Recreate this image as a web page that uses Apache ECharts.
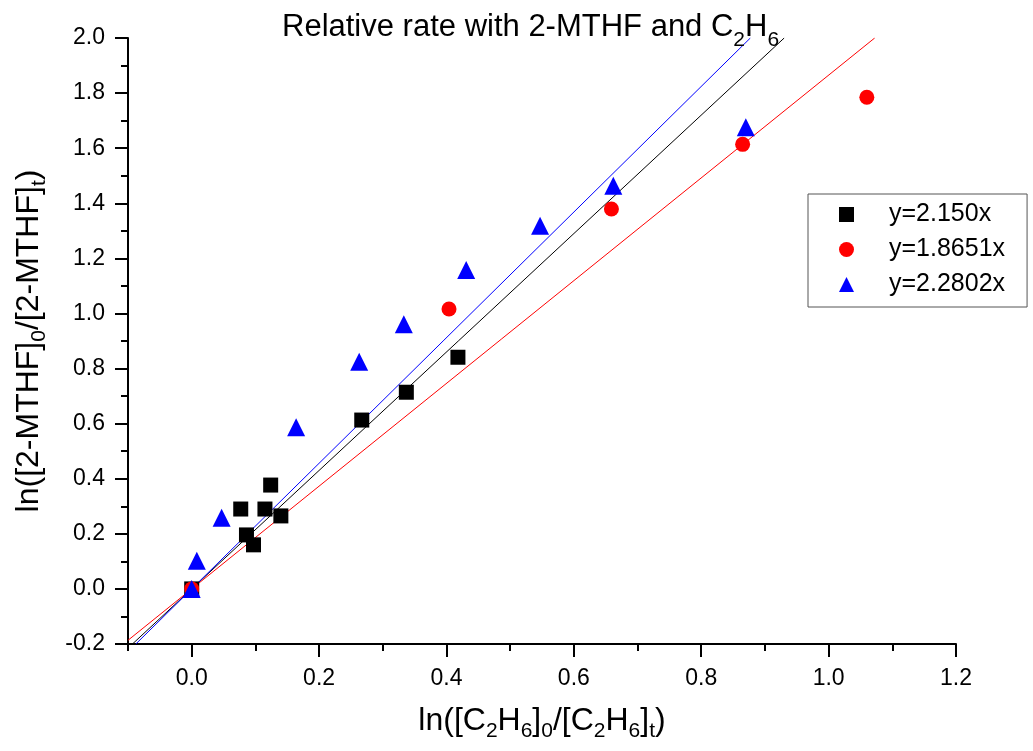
<!DOCTYPE html>
<html>
<head>
<meta charset="utf-8">
<script src="https://cdn.jsdelivr.net/npm/echarts@6/dist/echarts.min.js"></script>
<style>
html,body{margin:0;padding:0;background:#fff;}
#c{width:1033px;height:751px;}
</style>
</head>
<body>
<div id="c"></div>
<script>
// ---- data ----
const seriesNames = ['y=2.150x', 'y=1.8651x', 'y=2.2802x'];
const slopes = [2.150, 1.8651, 2.2802];
const xBlack = [0, 0.077, 0.086, 0.097, 0.115, 0.124, 0.140, 0.267, 0.337, 0.418];
const yBlack = [0, 0.290, 0.196, 0.160, 0.290, 0.377, 0.265, 0.613, 0.714, 0.841];
const xRed = [0, 0.404, 0.659, 0.865, 1.060];
const yRed = [0, 1.016, 1.379, 1.614, 1.785];
const xBlue = [0, 0.008, 0.047, 0.164, 0.263, 0.333, 0.431, 0.547, 0.662, 0.870];
const yBlue = [0, 0.102, 0.258, 0.587, 0.825, 0.961, 1.158, 1.318, 1.464, 1.676];
const xMajorTicks = [0, 0.2, 0.4, 0.6, 0.8, 1.0, 1.2];
const xMinorTicks = [-0.1, 0.1, 0.3, 0.5, 0.7, 0.9, 1.1];
const xRange = [-0.1, 1.2];
const yRange = [-0.2, 2.0];

const colors = ['#000000', '#ff0000', '#0000ff'];
const symbols = ['rect', 'circle', 'triangle'];
const symbolSizes = [15, 15, 18];
const pts = [[xBlack, yBlack], [xRed, yRed], [xBlue, yBlue]];

function zip(xs, ys) { return xs.map((x, i) => [x, ys[i]]); }
function fitLine(k) {
  const x0 = Math.max(xRange[0], yRange[0] / k);
  const x1 = Math.min(xRange[1], yRange[1] / k);
  return [[x0, k * x0], [x1, k * x1]];
}

const FONT = '"Liberation Sans", Arial, sans-serif';
const series = [];
slopes.forEach((k, i) => {
  series.push({
    name: 'fit' + i, type: 'line', data: fitLine(k), symbol: 'none',
    lineStyle: { color: colors[i], width: 1, opacity: 1 }, silent: true, z: 1, animation: false
  });
});
seriesNames.forEach((n, i) => {
  series.push({
    name: n, type: 'scatter', data: zip(pts[i][0], pts[i][1]),
    symbol: symbols[i], symbolSize: symbolSizes[i],
    itemStyle: { color: colors[i], opacity: 1 }, z: 3 + i, animation: false
  });
});

const subRich = (main, sub, lh) => ({
  a: { fontSize: main, fontFamily: FONT, fontWeight: 'normal', color: '#000', lineHeight: lh },
  s: { fontSize: sub, fontFamily: FONT, fontWeight: 'normal', color: '#000', lineHeight: sub, verticalAlign: 'bottom' }
});

const option = {
  backgroundColor: '#fff',
  animation: false,
  title: {
    text: '{a|Relative rate with 2-MTHF and C}{s|2}{a|H}{s|6}',
    left: 277, top: -2,
    textStyle: { fontWeight: 'normal', rich: subRich(31, 21, 48) }
  },
  legend: {
    data: seriesNames,
    orient: 'vertical',
    left: 808, top: 194,
    padding: [8, 22, 10, 31],
    itemGap: 10,
    itemWidth: 15, itemHeight: 15,
    borderColor: '#555', borderWidth: 1,
    textStyle: { fontSize: 25, fontFamily: FONT, color: '#000', lineHeight: 24, padding: [0, 0, 0, 30] }
  },
  grid: { left: 128, right: 77, top: 38, bottom: 107, containLabel: false },
  xAxis: [
    {
      type: 'value', min: xRange[0], max: xRange[1], position: 'bottom',
      axisLine: { show: true, onZero: false, lineStyle: { color: '#000', width: 2 } },
      splitLine: { show: false },
      axisTick: { show: true, inside: false, length: 13, lineStyle: { color: '#000', width: 2 }, customValues: xMajorTicks },
      axisLabel: { customValues: xMajorTicks, margin: 23, fontSize: 23, fontFamily: FONT, color: '#000',
        formatter: v => v.toFixed(1) },
      name: '{a|ln([C}{s|2}{a|H}{s|6}{a|]}{s|0}{a|/[C}{s|2}{a|H}{s|6}{a|]}{s|t}{a|)}',
      nameLocation: 'middle', nameGap: 56,
      nameTextStyle: { rich: subRich(32, 21, 42) }
    },
    {
      type: 'value', min: xRange[0], max: xRange[1], position: 'bottom',
      axisLine: { show: false, onZero: false }, splitLine: { show: false },
      axisTick: { show: true, inside: false, length: 7, lineStyle: { color: '#000', width: 2 }, customValues: xMinorTicks },
      axisLabel: { show: false }
    }
  ],
  yAxis: {
    type: 'value', min: yRange[0], max: yRange[1], interval: 0.2,
    axisLine: { show: true, onZero: false, lineStyle: { color: '#000', width: 2 } },
    splitLine: { show: false },
    axisTick: { show: true, inside: false, length: 13, lineStyle: { color: '#000', width: 2 } },
    minorTick: { show: true, splitNumber: 2, length: 7, lineStyle: { color: '#000', width: 2 } },
    axisLabel: { margin: 23, fontSize: 23, fontFamily: FONT, color: '#000', formatter: v => v.toFixed(1) },
    name: '{a|ln([2-MTHF]}{s|0}{a|/[2-MTHF]}{s|t}{a|)}',
    nameLocation: 'middle', nameRotate: 90, nameGap: 78,
    nameTextStyle: { rich: subRich(32, 21, 42) }
  },
  series: series
};

const chart = echarts.init(document.getElementById('c'), null, { renderer: 'canvas' });
chart.setOption(option);
</script>
</body>
</html>
